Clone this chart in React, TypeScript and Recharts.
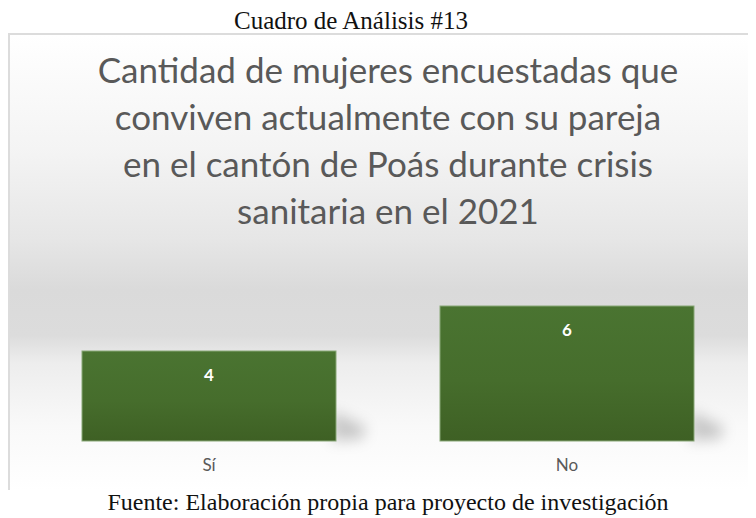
import React from 'react'
import { BarChart, Bar, XAxis, YAxis, LabelList } from 'recharts'

const categories = ['Sí', 'No']
const counts = [4, 6]
const titleLines = [
  'Cantidad de mujeres encuestadas que',
  'conviven actualmente con su pareja',
  'en el cantón de Poás durante crisis',
  'sanitaria en el 2021',
]
const caption = 'Cuadro de Análisis #13'
const source = 'Fuente: Elaboración propia para proyecto de investigación'

const data = categories.map((name, i) => ({ name, value: counts[i] }))

// bar with a soft shadow at the lower right corner
const ShadowBar = (props: any) => {
  const { x, y, width, height } = props
  const r = x + width
  const b = y + height
  return (
    <g>
      <polygon
        points={`${r - 4},${b - 30} ${r + 30},${b - 14} ${r + 26},${b - 2} ${r - 4},${b}`}
        fill="#000"
        fillOpacity={0.2}
        filter="url(#blurShadow)"
      />
      <rect x={x} y={y} width={width} height={height} fill="url(#barFill)" stroke="#88a777" strokeWidth={1} />
    </g>
  )
}

const App = () => {
  return (
    <div style={{ width: 748, overflow: 'hidden' }}>
      <div style={{ height: 25, lineHeight: '25px', fontSize: 25, fontFamily: '"Liberation Serif", serif', paddingLeft: 226, whiteSpace: 'nowrap', color: '#111' }}>
        {caption}
      </div>
      <div
        style={{
          position: 'relative',
          width: 760,
          height: 457,
          boxSizing: 'border-box',
          borderTop: '2px solid #dcdcdc',
          borderLeft: '2px solid #dcdcdc',
          background: 'linear-gradient(to bottom, #ffffff 0%, #f4f4f4 25%, #e6e6e6 45%, #dadada 56%, #dcdcdc 66%, #ededed 72%, #f9f9f9 86%, #ffffff 100%)',
        }}
      >
        <div style={{ position: 'absolute', top: 11, left: -2, width: 760, textAlign: 'center', fontFamily: 'Lato, sans-serif', fontSize: 35, lineHeight: '47px', color: '#595959' }}>
          {titleLines.map((t) => (
            <div key={t}>{t}</div>
          ))}
        </div>
        <div style={{ position: 'absolute', top: -2, left: -2 }}>
          <BarChart width={760} height={457} data={data} margin={{ top: 228, right: 22, bottom: 0, left: 22 }} barCategoryGap={52}>
            <defs>
              <linearGradient id="barFill" x1="0" y1="0" x2="0" y2="1">
                <stop offset="0%" stopColor="#4a7431" />
                <stop offset="55%" stopColor="#466d2c" />
                <stop offset="100%" stopColor="#3e6024" />
              </linearGradient>
              <filter id="blurShadow" x="-50%" y="-50%" width="200%" height="200%">
                <feGaussianBlur stdDeviation="7" />
              </filter>
            </defs>
            <XAxis
              dataKey="name"
              height={49}
              axisLine={false}
              tickLine={false}
              tickMargin={12}
              tick={{ fill: '#595959', fontSize: 17, fontFamily: 'Lato, sans-serif' }}
            />
            <YAxis hide domain={[0, 8]} />
            <Bar dataKey="value" isAnimationActive={false} shape={ShadowBar}>
              <LabelList dataKey="value" position="insideTop" offset={18} fill="#ffffff" fontSize={17} fontWeight="bold" fontFamily="Lato, sans-serif" />
            </Bar>
          </BarChart>
        </div>
      </div>
      <div style={{ width: 760, height: 25, lineHeight: '25px', fontSize: 24, fontFamily: '"Liberation Serif", serif', textAlign: 'center', whiteSpace: 'nowrap', color: '#111' }}>
        {source}
      </div>
    </div>
  )
}

export default App
